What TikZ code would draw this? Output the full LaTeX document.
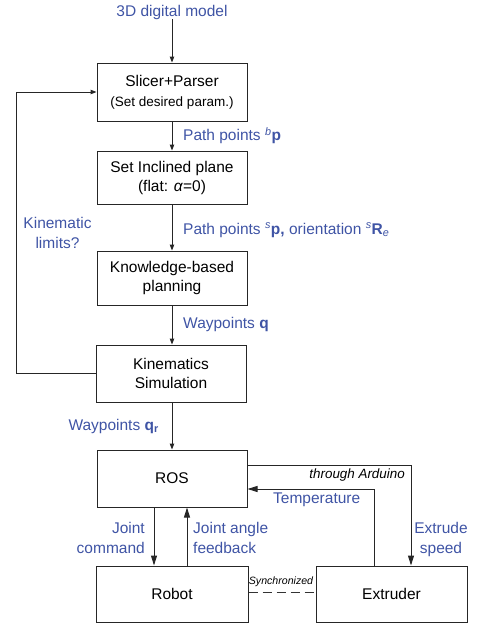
\documentclass[tikz,border=0pt]{standalone}
\usepackage{fontspec}
\setmainfont{Liberation Sans}
\usetikzlibrary{arrows.meta}
\definecolor{labelblue}{RGB}{63,84,165}
\tikzset{
    block/.style={draw=black!85, line width=1pt, minimum width=150pt, minimum height=56pt,
        inner sep=0pt, align=center, font=\fontsize{15.5}{19}\selectfont},
    lbl/.style={text=labelblue, inner sep=0pt, font=\fontsize{15.5}{19.5}\selectfont},
    note/.style={inner sep=0pt, font=\fontsize{13.4}{16}\selectfont\itshape},
    arr/.style={draw=black!85, line width=1pt, -{Triangle[length=6pt,width=4.5pt]}},
    bigarr/.style={draw=black!85, line width=1pt, -{Triangle[length=10pt,width=6pt]}},
}
\begin{document}
\begin{tikzpicture}[x=1pt,y=-1pt]
        \useasboundingbox (0,0) rectangle (478,624);

        \node[block, minimum height=58pt] (slicer) at (172,92) {Slicer+Parser\\[1pt]{\fontsize{13.5}{16}\selectfont(Set desired param.)}};
        \node[block, minimum height=53pt] (plane) at (172,177.5) {Set Inclined plane\\(flat: \textit{α}=0)};
        \node[block, minimum height=54pt] (planning) at (172,278) {Knowledge-based\\planning};
        \node[block, minimum height=57pt] (kin) at (171,373.5) {Kinematics\\Simulation};
        \node[block, minimum height=57pt] (ros) at (172,478.5) {ROS};
        \node[block, minimum width=152pt] (robot) at (172,594) {Robot};
        \node[block, minimum width=151pt] (extruder) at (391.5,594) {Extruder};

        \node[lbl] (model) at (172,12) {3D digital model};
        \node[lbl, anchor=west] (pathb) at (183,136) {Path points \textsuperscript{\textit{b}}\textbf{p}};
        \node[lbl, anchor=west] (paths) at (183,230) {Path points \textsuperscript{\textit{s}}\textbf{p, }orientation \textsuperscript{\textit{s}}\textbf{R}\textsubscript{\textit{e}}};
        \node[lbl, anchor=west] (wayq) at (183,324) {Waypoints \textbf{q}};
        \node[lbl, anchor=east] (wayqr) at (159,426) {Waypoints \textbf{q}\textsubscript{\textbf{r}}};
        \node[lbl, align=center] (limits) at (57.5,233) {Kinematic\\limits?};
        \node[lbl, anchor=east, align=right] (jcmd) at (145,538) {Joint\\command};
        \node[lbl, anchor=west, align=left] (jfb) at (193,538) {Joint angle\\feedback};
        \node[lbl, anchor=west] (temp) at (273,500) {Temperature};
        \node[lbl, align=center] (speed) at (441,539.5) {Extrude\\speed};
        \node[note, anchor=east] (arduino) at (405,475) {through Arduino};
        \node[note, font=\fontsize{10.6}{13}\selectfont\itshape] (sync) at (281,582) {Synchronized};

        \draw[arr] (model) -- (slicer);
        \draw[arr] (slicer) -- (plane);
        \draw[arr] (plane) -- (planning);
        \draw[arr] (planning) -- (planning |- kin.north);
        \draw[arr] (kin.south -| ros.north) -- (ros);
        \draw[arr] (kin.west) -- ++(-79,0) |- (slicer.west);

        \draw[bigarr] ([xshift=-18pt]ros.south) -- ([xshift=-18pt]robot.north);
        \draw[bigarr] ([xshift=15pt]robot.north) -- ([xshift=15pt]ros.south);
        \draw[bigarr] ([yshift=13.5pt]ros.east) -| ([xshift=19.5pt]extruder.north);
        \draw[bigarr] ([xshift=-17.5pt]extruder.north) |- ([yshift=-10.5pt]ros.east);
        \draw[black!80, line width=1pt, dash pattern=on 9pt off 5pt] ([yshift=2pt]robot.east) -- ([yshift=2pt]extruder.west);
    \end{tikzpicture}
\end{document}
